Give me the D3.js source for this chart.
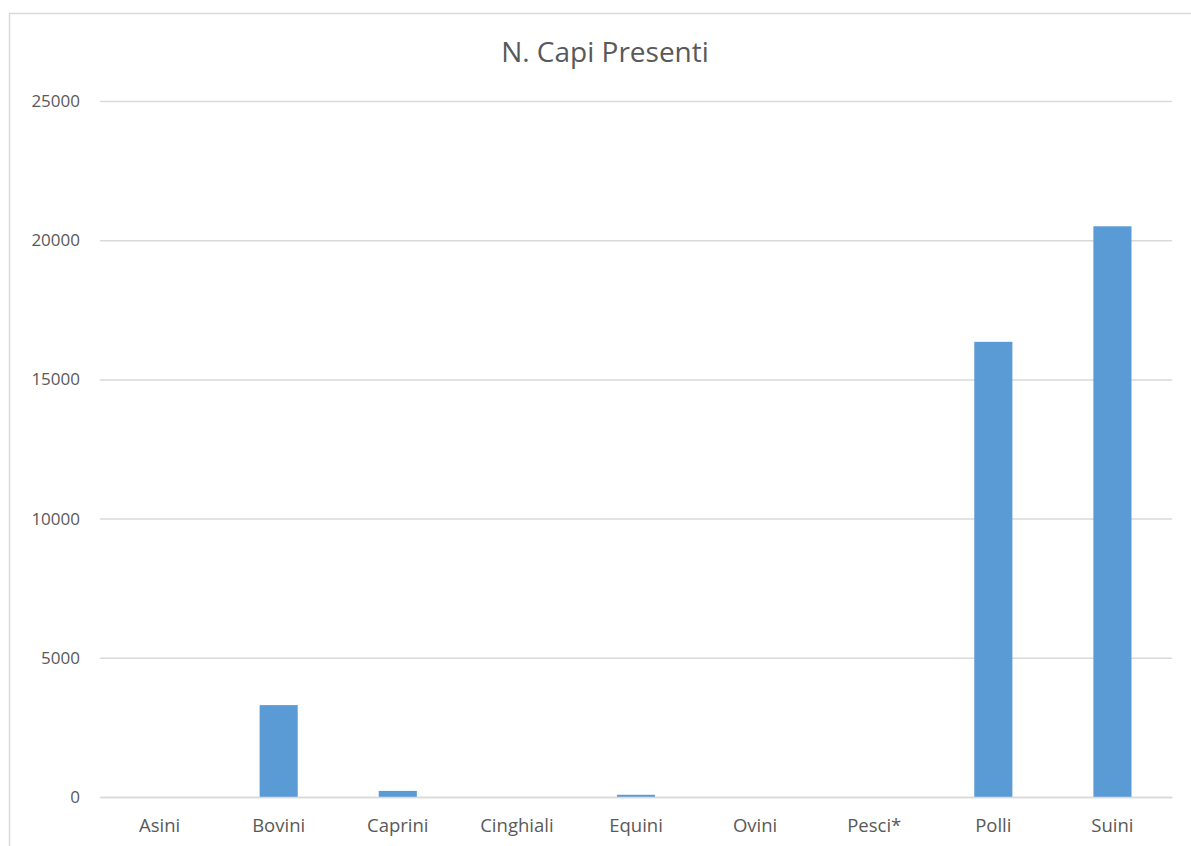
<!DOCTYPE html>
<html>
<head>
<meta charset="utf-8">
<script src="https://cdn.jsdelivr.net/npm/d3@7"></script>
<style>
  body { margin: 0; background: #ffffff; }
  svg { display: block; }
</style>
</head>
<body>
<div id="vis"></div>
<script>
// Data
const CATEGORIES = ["Asini", "Bovini", "Caprini", "Cinghiali", "Equini", "Ovini", "Pesci*", "Polli", "Suini"];
const VALUES = [0, 3300, 220, 0, 80, 0, 0, 16350, 20500];
const Y_TICKS = [0, 5000, 10000, 15000, 20000, 25000];
const TITLE = "N. Capi Presenti";

// Frame and margins
const FRAME_WIDTH = 1191;
const FRAME_HEIGHT = 846;
const MARGINS = {left: 100, right: 19, top: 101, bottom: 49};
const VIS_WIDTH = FRAME_WIDTH - MARGINS.left - MARGINS.right;
const VIS_HEIGHT = FRAME_HEIGHT - MARGINS.top - MARGINS.bottom;

const TEXT_COLOR = "#595959";
const GRID_COLOR = "#d9d9d9";
const BAR_COLOR = "#5b9bd5";
const FONT = "'Open Sans', sans-serif";

const data = CATEGORIES.map((c, i) => ({cat: c, value: VALUES[i]}));

const FRAME = d3.select("#vis")
  .append("svg")
    .attr("width", FRAME_WIDTH)
    .attr("height", FRAME_HEIGHT);

// chart area border (only top and left sides show)
FRAME.append("rect")
  .attr("x", 9.5)
  .attr("y", 13.5)
  .attr("width", 1300)
  .attr("height", 1000)
  .attr("fill", "none")
  .attr("stroke", GRID_COLOR)
  .attr("stroke-width", 1.5);

// Scales
const X_SCALE = d3.scaleBand()
  .domain(CATEGORIES)
  .range([0, VIS_WIDTH])
  .paddingInner(0.68)
  .paddingOuter(0.34);

const Y_SCALE = d3.scaleLinear()
  .domain([0, 25000])
  .range([VIS_HEIGHT, 0]);

const G = FRAME.append("g")
  .attr("transform", "translate(" + MARGINS.left + "," + MARGINS.top + ")");

// Gridlines + y labels
const yAxis = G.append("g")
  .call(d3.axisLeft(Y_SCALE).tickValues(Y_TICKS).tickSize(-VIS_WIDTH).tickPadding(20).tickFormat(d3.format("d")));
yAxis.select(".domain").remove();
yAxis.selectAll("line")
  .attr("stroke", GRID_COLOR)
  .attr("stroke-width", 1.5);
yAxis.selectAll("text")
  .attr("fill", TEXT_COLOR)
  .style("font-family", FONT)
  .style("font-size", "17px");

// Bars
G.selectAll(".bar")
  .data(data)
  .enter()
  .append("rect")
    .attr("class", "bar")
    .attr("x", (d) => X_SCALE(d.cat))
    .attr("y", (d) => Y_SCALE(d.value))
    .attr("width", X_SCALE.bandwidth())
    .attr("height", (d) => VIS_HEIGHT - Y_SCALE(d.value))
    .attr("fill", BAR_COLOR);

// X axis
const xAxis = G.append("g")
  .attr("transform", "translate(0," + VIS_HEIGHT + ")")
  .call(d3.axisBottom(X_SCALE).tickSize(0).tickPadding(22));
xAxis.select(".domain")
  .attr("stroke", GRID_COLOR)
  .attr("stroke-width", 1.5);
xAxis.selectAll("text")
  .attr("fill", TEXT_COLOR)
  .style("font-family", FONT)
  .style("font-size", "18.5px");

// Title
FRAME.append("text")
  .attr("x", 605)
  .attr("y", 62)
  .attr("text-anchor", "middle")
  .attr("fill", TEXT_COLOR)
  .style("font-family", FONT)
  .style("font-size", "28px")
  .text(TITLE);
</script>
</body>
</html>
